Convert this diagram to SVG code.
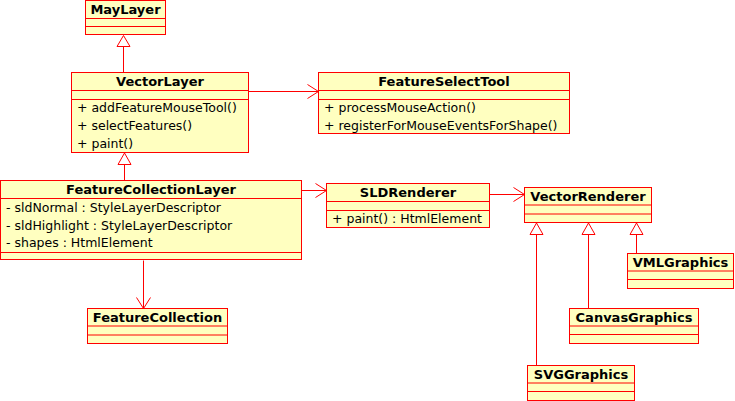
<svg xmlns="http://www.w3.org/2000/svg" width="735" height="401" viewBox="0 0 735 401">
<defs>
<style>
.box{fill:#ffffc0;stroke:#ff0000;stroke-width:1}
.div{stroke:#ff0000;stroke-width:1;fill:none}
.t{font-family:"DejaVu Sans",sans-serif;font-size:13px;font-weight:bold;fill:#000;text-anchor:middle}
.m{font-family:"DejaVu Sans",sans-serif;font-size:12.5px;fill:#000}
.ln{stroke:#ff0000;stroke-width:1;fill:none}
.tri{fill:#fff;stroke:#ff0000;stroke-width:1}
</style>
</defs>
<rect width="735" height="401" fill="#fff"/>
<g id="connectors">
<line class="ln" x1="123.5" y1="72.5" x2="123.5" y2="46.5"/>
<polygon class="tri" points="123.5,35.5 117,46.5 130,46.5"/>
<line class="ln" x1="124.5" y1="180.5" x2="124.5" y2="164.5"/>
<polygon class="tri" points="124.5,153 118,164.5 131,164.5"/>
<line class="ln" x1="536.5" y1="365.5" x2="536.5" y2="234.5"/>
<polygon class="tri" points="536.5,223 530,234.5 543,234.5"/>
<line class="ln" x1="588.5" y1="308.5" x2="588.5" y2="234.5"/>
<polygon class="tri" points="588.5,223 582,234.5 595,234.5"/>
<line class="ln" x1="636.5" y1="253.5" x2="636.5" y2="234.5"/>
<polygon class="tri" points="636.5,223 630,234.5 643,234.5"/>
<line class="ln" x1="248.5" y1="91.5" x2="318.5" y2="91.5"/>
<polyline class="ln" points="307.5,84.5 318.5,91.5 307.5,98.5"/>
<line class="ln" x1="301.5" y1="190.5" x2="326.5" y2="190.5"/>
<polyline class="ln" points="315.5,183.5 326.5,190.5 315.5,197.5"/>
<line class="ln" x1="489.5" y1="194.5" x2="524.5" y2="194.5"/>
<polyline class="ln" points="513.5,187.5 524.5,194.5 513.5,201.5"/>
<line class="ln" x1="143.5" y1="260.5" x2="143.5" y2="308.5"/>
<polyline class="ln" points="136.5,297.5 143.5,308.5 150.5,297.5"/>
</g>
<g id="MayLayer">
<rect class="box" x="85.5" y="0.5" width="80" height="34"/>
<line class="div" x1="85.5" y1="18.5" x2="165.5" y2="18.5"/>
<line class="div" x1="85.5" y1="26.5" x2="165.5" y2="26.5"/>
<text class="t" x="125.5" y="14">MayLayer</text>
</g>
<g id="VectorLayer">
<rect class="box" x="71.5" y="72.5" width="177" height="80"/>
<line class="div" x1="71.5" y1="90.5" x2="248.5" y2="90.5"/>
<line class="div" x1="71.5" y1="99.5" x2="248.5" y2="99.5"/>
<text class="t" x="160" y="86">VectorLayer</text>
<text class="m" x="77" y="112">+ addFeatureMouseTool()</text>
<text class="m" x="77" y="130">+ selectFeatures()</text>
<text class="m" x="77" y="148">+ paint()</text>
</g>
<g id="FeatureSelectTool">
<rect class="box" x="318.5" y="72.5" width="251" height="61"/>
<line class="div" x1="318.5" y1="90.5" x2="569.5" y2="90.5"/>
<line class="div" x1="318.5" y1="99.5" x2="569.5" y2="99.5"/>
<text class="t" x="444" y="86">FeatureSelectTool</text>
<text class="m" x="324" y="112">+ processMouseAction()</text>
<text class="m" x="324" y="130">+ registerForMouseEventsForShape()</text>
</g>
<g id="FeatureCollectionLayer">
<rect class="box" x="0.5" y="180.5" width="301" height="79"/>
<line class="div" x1="0.5" y1="198.5" x2="301.5" y2="198.5"/>
<line class="div" x1="0.5" y1="252.5" x2="301.5" y2="252.5"/>
<text class="t" x="151" y="194">FeatureCollectionLayer</text>
<text class="m" x="6" y="212">- sldNormal : StyleLayerDescriptor</text>
<text class="m" x="6" y="229.5">- sldHighlight : StyleLayerDescriptor</text>
<text class="m" x="6" y="247">- shapes : HtmlElement</text>
</g>
<g id="SLDRenderer">
<rect class="box" x="326.5" y="183.5" width="163" height="44"/>
<line class="div" x1="326.5" y1="201.5" x2="489.5" y2="201.5"/>
<line class="div" x1="326.5" y1="210.5" x2="489.5" y2="210.5"/>
<text class="t" x="408" y="197">SLDRenderer</text>
<text class="m" x="332" y="223">+ paint() : HtmlElement</text>
</g>
<g id="VectorRenderer">
<rect class="box" x="524.5" y="187.5" width="127" height="35"/>
<line class="div" x1="524.5" y1="205" x2="651.5" y2="205"/>
<line class="div" x1="524.5" y1="214" x2="651.5" y2="214"/>
<text class="t" x="588" y="201">VectorRenderer</text>
</g>
<g id="VMLGraphics">
<rect class="box" x="627.5" y="253.5" width="106" height="35"/>
<line class="div" x1="627.5" y1="271" x2="733.5" y2="271"/>
<line class="div" x1="627.5" y1="279.5" x2="733.5" y2="279.5"/>
<text class="t" x="680.5" y="267">VMLGraphics</text>
</g>
<g id="CanvasGraphics">
<rect class="box" x="569.5" y="308.5" width="129" height="35"/>
<line class="div" x1="569.5" y1="326" x2="698.5" y2="326"/>
<line class="div" x1="569.5" y1="334.5" x2="698.5" y2="334.5"/>
<text class="t" x="634" y="322">CanvasGraphics</text>
</g>
<g id="SVGGraphics">
<rect class="box" x="527.5" y="365.5" width="107" height="35"/>
<line class="div" x1="527.5" y1="383" x2="634.5" y2="383"/>
<line class="div" x1="527.5" y1="391.5" x2="634.5" y2="391.5"/>
<text class="t" x="581" y="378.5">SVGGraphics</text>
</g>
<g id="FeatureCollection">
<rect class="box" x="87.5" y="308.5" width="140" height="35"/>
<line class="div" x1="87.5" y1="326" x2="227.5" y2="326"/>
<line class="div" x1="87.5" y1="335" x2="227.5" y2="335"/>
<text class="t" x="157.5" y="322">FeatureCollection</text>
</g>
</svg>
